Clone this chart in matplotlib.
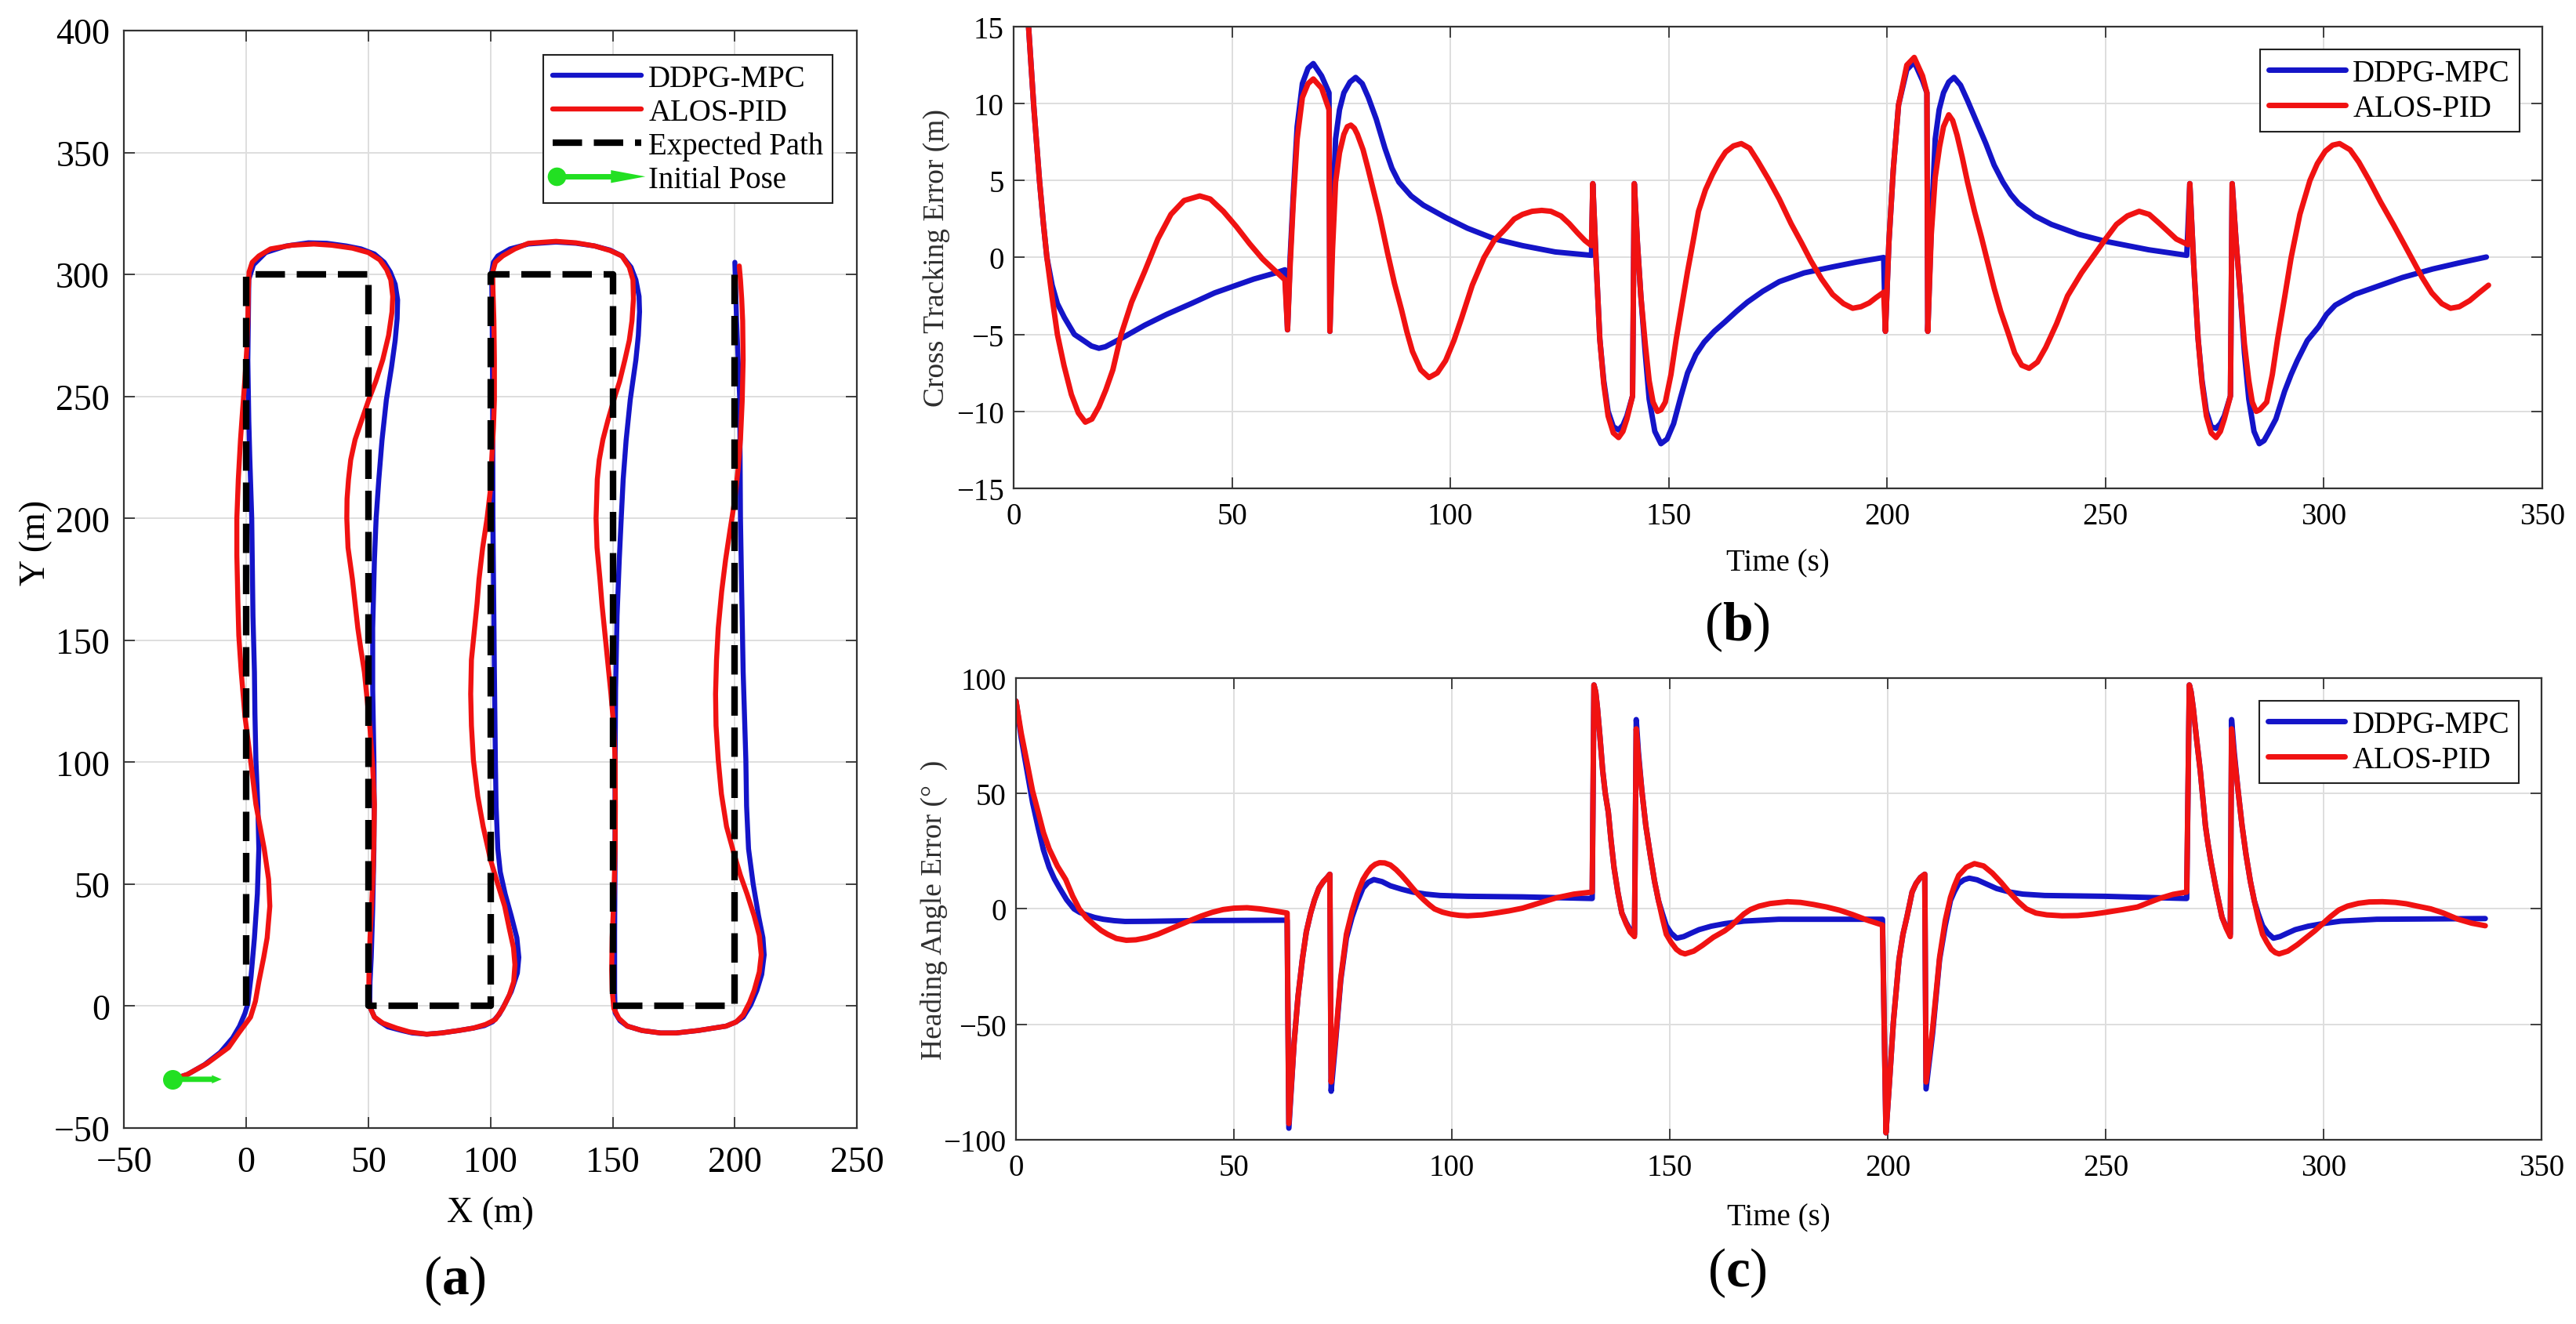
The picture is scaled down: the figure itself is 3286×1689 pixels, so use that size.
import numpy as np
import matplotlib.pyplot as plt
from matplotlib.lines import Line2D
from matplotlib.patches import Polygon

plt.rcParams['font.family'] = ['Liberation Serif', 'DejaVu Serif']
plt.rcParams['mathtext.fontset'] = 'custom'
plt.rcParams['mathtext.rm'] = 'Liberation Serif'
plt.rcParams['mathtext.bf'] = 'Liberation Serif:bold'

BLUE = '#1414c8'
RED = '#f01212'
GREEN = '#22e022'

# ---------------- (a) trajectories ----------------
path_x = [0, 0, 50, 50, 100, 100, 150, 150, 200, 200]
path_y = [0, 300, 300, 0, 0, 300, 300, 0, 0, 300]

init_x, init_y, init_len = -30, -30, 20

ddpg_xy = [(-30, -30), (-24, -28), (-17, -24), (-10.6, -19), (-5.5, -13), (-2.7, -8.2), (-0.5, -3),
           (0.7, 1), (2, 12), (3.4, 28), (4.6, 46), (5.2, 64.5), (4.8, 82), (4, 101), (3.6, 120),
           (3.4, 137), (2.8, 160), (2.3, 200), (1.5, 225), (1.1, 240), (0.7, 265), (0.9, 280),
           (1.1, 298), (3, 304), (8, 309), (16.4, 311.7), (25.5, 313), (33, 312.8), (41, 311.7),
           (47, 310.5), (52.5, 308.4), (56.5, 305), (59, 301), (61, 296), (62, 289.6), (61.8, 282),
           (61, 273), (59.5, 262), (57.4, 248.7), (55.6, 232), (54.3, 216), (53.2, 200), (52.5, 183),
           (51.8, 155), (51.8, 130), (52.3, 101), (52.4, 82), (52.3, 64.5), (51.8, 40), (51.2, 20),
           (50.7, 10), (50.6, 2), (51, -1), (52.5, -4.5), (54.7, -6.4), (58, -8.5), (63.7, -10),
           (68, -11), (73.9, -11.5), (80, -11), (87, -10), (93, -9), (97.5, -8), (100.9, -6.4),
           (103.5, -3.5), (106, 1), (108.5, 6), (111, 13.6), (111.6, 20), (110.8, 28), (108.5, 37),
           (106, 46), (104, 55), (103, 64.5), (102.3, 82), (102, 101), (101.6, 137), (101.3, 170),
           (101, 200), (100.9, 248.7), (100.7, 281), (100.5, 301), (101.2, 305), (103, 307.6),
           (108, 310.5), (115.5, 312.5), (126.8, 313.3), (135, 312.8), (142.6, 311.7), (149, 310),
           (153.8, 307.6), (157.5, 303), (159.5, 297.8), (160.8, 291), (161, 284.7), (160.5, 275),
           (159.5, 265), (157.2, 248.7), (155.5, 232), (154.3, 216), (153.5, 200), (152.7, 183),
           (151.8, 160), (151.2, 130), (151, 101), (151, 64.5), (150.8, 30), (150.8, 6), (151, -2.7),
           (153, -6), (156, -8.2), (162, -10), (169.6, -11), (176, -11), (185, -10), (196.4, -8.2),
           (200.5, -6.5), (203.4, -4.5), (206.5, 0.5), (209, 6.4), (211, 13), (212, 21), (211.5, 28),
           (209.7, 37), (207.5, 50), (205.6, 64.5), (204.8, 82), (204.5, 101), (203.4, 137),
           (202.8, 170), (202.3, 200), (202, 248.7), (200.7, 281), (200, 305)]

alos_xy = [(-30, -30), (-24, -28), (-16, -23.5), (-7.2, -17), (-3, -11), (1.8, -4.5), (3.8, 2),
           (5.2, 10), (7.2, 20), (8.6, 28), (9.7, 41), (9.2, 52), (7.4, 64.5), (5.8, 73), (4, 82.7),
           (1.8, 101), (-0.5, 119), (-2, 137), (-3, 152), (-3.4, 167), (-3.8, 185), (-3.8, 200),
           (-3.2, 216), (-2.3, 232.3), (-1.4, 245), (-0.5, 257), (0.3, 270), (0.7, 281), (0.9, 294),
           (1.2, 301), (2.5, 305), (5.2, 307.6), (10, 310.5), (18.7, 312), (27.7, 312.5), (35, 312),
           (43.5, 310.8), (50, 309), (54.7, 306), (57.5, 302), (59.2, 297.8), (60, 291), (59.7, 284.7),
           (58.3, 275), (55.9, 265), (53, 256), (50.2, 248.7), (47.2, 240), (44.6, 232.3),
           (42.8, 224), (41.9, 216), (41.3, 208), (41.2, 200), (41.7, 188), (43.5, 175), (44.6, 165),
           (45.7, 155), (47, 146), (48.4, 137), (49.6, 125), (50.7, 113.6), (51.8, 98), (52.5, 82.7),
           (52.3, 70), (52, 55.5), (51.4, 42), (50.7, 28), (50.3, 15), (50.2, 6.4), (50.5, 0),
           (52.5, -4.5), (56, -7), (61.5, -9), (67, -10.6), (73.9, -11.5), (80, -11), (87, -10),
           (93, -9), (98, -7.5), (102, -5.5), (105, -1), (107.7, 4.5), (109.5, 10), (110, 17),
           (109.4, 24), (107.7, 31.8), (105.8, 41), (103, 50), (100, 60), (97, 73.6), (94.8, 86),
           (93, 101), (92.2, 115), (91.9, 128), (92.2, 142), (93.5, 155), (94.5, 165), (95.3, 175),
           (96.8, 188), (98.6, 200), (100, 212), (100.5, 224), (101.2, 237), (101.6, 248.7),
           (101.6, 265), (101.4, 281), (101, 294), (100.9, 301), (102, 305), (105, 307.6),
           (110, 310.5), (115.5, 312.8), (126.8, 313.6), (135, 313), (142.6, 311.7), (149, 309.8),
           (153.8, 307.6), (156.8, 303), (158.3, 297.8), (158.5, 290), (157.9, 281), (156.8, 273),
           (155, 265), (152.8, 256), (150.5, 248.7), (148, 240), (146, 232.3), (144.5, 224),
           (143.7, 216), (143.2, 200), (143.6, 188), (144.8, 175), (145.6, 165), (146.6, 155),
           (148, 141), (149.3, 128), (150.4, 115), (151, 101), (151.1, 82), (151, 64.5), (150.5, 45),
           (149.8, 28), (149.6, 15), (149.8, 6.4), (150.5, -1), (152.5, -5), (156, -8.2), (162, -10),
           (169.6, -11), (176, -11), (185, -10), (196.4, -8.2), (200.5, -6.5), (203.4, -3.6),
           (206, 1.5), (207.9, 6.4), (210, 14), (210.8, 21), (210, 29), (207.9, 37), (205, 46),
           (202.3, 53.6), (199.5, 63), (196.6, 73.6), (194.5, 87), (193.2, 101), (192.3, 115),
           (192.1, 128), (192.5, 142), (193.2, 155), (194.6, 170), (196.2, 183), (198, 195),
           (200, 207.8), (201.3, 220), (202.3, 232.3), (203, 248), (203.4, 265), (203.2, 281),
           (202.8, 290), (202.3, 297.8), (201.8, 303.5)]

# ---------------- (b) cross tracking error ----------------
cte_ddpg = [(0, 28), (3.4, 15), (4.6, 9.8), (5.9, 5), (6.8, 2.2), (7.6, 0), (8.8, -1.8), (10, -3.0),
            (11.6, -3.9), (13.9, -5.0), (16, -5.4), (17.8, -5.75), (19.5, -5.9), (21, -5.8),
            (23, -5.5), (25, -5.2), (30, -4.4), (35, -3.7), (41, -2.95), (46, -2.3), (50, -1.9),
            (55, -1.4), (60, -1.0), (62.1, -0.8), (62.7, -4.7), (63.3, 0), (64.0, 4.0), (64.9, 8.5),
            (66.1, 11.3), (67.4, 12.3), (68.6, 12.6), (70.5, 11.8), (72.2, 10.7), (72.4, -4.8),
            (73.0, 2.0), (73.7, 7.7), (74.6, 9.6), (75.6, 10.7), (77.0, 11.4), (78.3, 11.7),
            (79.8, 11.3), (81.2, 10.4), (83, 9.0), (85, 7.1), (86.6, 5.8), (88.2, 4.9), (91, 4.0),
            (93.8, 3.4), (98.9, 2.6), (103.9, 1.9), (110.2, 1.2), (116.5, 0.77), (124, 0.36),
            (132.3, 0.14), (132.6, 4.8), (133.4, -0.5), (134.2, -5.3), (135.1, -8.0), (136.1, -10.0),
            (137.3, -11.0), (138.5, -11.2), (139.5, -10.9), (140.4, -10.3), (141.7, -9), (142.1, 4.8),
            (142.8, 1.0), (143.6, -2.5), (144.6, -6.2), (145.5, -9.2), (146.8, -11.3), (148.2, -12.1),
            (149.6, -11.8), (151.1, -10.8), (152.7, -9.1), (154.3, -7.5), (156.2, -6.3), (158.1, -5.5),
            (160.4, -4.8), (162.8, -4.2), (165.5, -3.5), (168, -2.9), (171.5, -2.2), (175.3, -1.57),
            (181, -1.0), (187.7, -0.6), (193, -0.3), (199.2, 0), (199.6, -4.8), (200.4, 1.0),
            (201.4, 5.7), (202.6, 9.9), (204.5, 12.2), (206.2, 12.7), (208.1, 11.5), (209.1, 10.7),
            (209.3, -4.8), (210.1, 2.0), (211, 7.7), (211.9, 9.6), (212.9, 10.7), (214.1, 11.4),
            (215.3, 11.7), (216.8, 11.2), (218.4, 10.2), (220.5, 8.8), (222.6, 7.4), (224.5, 6.0),
            (226.5, 4.9), (228.3, 4.1), (230.1, 3.5), (233.8, 2.7), (237.6, 2.15), (243.9, 1.5),
            (250, 1.05), (259.9, 0.5), (268.6, 0.14), (269.3, 4.8), (270.2, -0.5), (271.2, -5.3),
            (272.1, -8.0), (273.1, -10.0), (274.2, -11.0), (275.3, -11.1), (276.3, -10.8),
            (277.2, -10.3), (278.6, -9), (279.0, 4.8), (279.9, 1.0), (280.9, -2.5), (281.8, -6.2),
            (282.8, -9.2), (284, -11.3), (285.2, -12.1), (286.3, -11.9), (287.5, -11.3), (289, -10.5),
            (291, -8.7), (292.5, -7.6), (293.9, -6.7), (296.2, -5.4), (298.8, -4.5), (300.6, -3.7),
            (302.6, -3.1), (307, -2.4), (312.5, -1.85), (318, -1.3), (324.9, -0.75), (331, -0.35),
            (337.2, 0.03)]

cte_alos = [(0, 28), (3.4, 15), (4.6, 9.8), (5.9, 5), (6.8, 2.2), (7.6, 0), (8.8, -2.6), (10, -5),
            (11.5, -7), (13.2, -8.9), (14.8, -10.1), (16.4, -10.7), (17.9, -10.5), (19.5, -9.7),
            (21.1, -8.6), (22.7, -7.3), (24.6, -5), (27, -2.9), (30, -0.9), (33, 1.2), (36, 2.8),
            (39, 3.7), (42.6, 4.0), (45, 3.8), (48, 3.0), (51, 2.0), (54, 0.9), (57, -0.1),
            (60, -0.9), (62.1, -1.45), (62.7, -4.7), (63.3, -0.5), (64.0, 3.5), (64.9, 7.7),
            (66.1, 10.4), (67.4, 11.3), (68.6, 11.6), (70.5, 11.0), (72.2, 9.6), (72.4, -4.8),
            (73.0, 0.5), (73.7, 4.9), (74.6, 6.8), (75.6, 8.0), (76.4, 8.5), (77.2, 8.6), (78, 8.4),
            (78.7, 8.0), (80, 7.0), (81.2, 5.7), (82.5, 4.2), (83.8, 2.7), (85.6, 0.3), (87.2, -1.7),
            (88.8, -3.4), (90, -4.8), (91.3, -6.1), (93.2, -7.3), (95.1, -7.8), (97, -7.5),
            (98.9, -6.7), (100.8, -5.4), (102.6, -3.9), (105, -1.8), (107.7, 0), (110, 1.1),
            (112.7, 1.9), (114.6, 2.5), (116.5, 2.8), (118.7, 3.0), (120.9, 3.06), (123, 3.0),
            (125.3, 2.7), (127.2, 2.2), (129.1, 1.6), (130.8, 1.1), (132.3, 0.77), (132.6, 4.8),
            (133.4, -0.5), (134.2, -5.3), (135.1, -8.2), (136.1, -10.3), (137.3, -11.4),
            (138.5, -11.7), (139.5, -11.3), (140.4, -10.5), (141.7, -9), (142.1, 4.8), (142.8, 1.0),
            (143.6, -2.5), (144.6, -5.6), (145.5, -8), (146.4, -9.4), (147.4, -10), (148.2, -9.9),
            (149.2, -9.4), (150.5, -7.6), (151.7, -5.3), (153, -3.1), (154.3, -0.9), (155.6, 1.1),
            (156.8, 3), (158.4, 4.4), (160, 5.4), (161.5, 6.2), (163, 6.85), (164.8, 7.25),
            (166.6, 7.4), (168.5, 7.1), (170.3, 6.3), (172.8, 5.1), (175.3, 3.8), (178, 2.2),
            (180.3, 1.0), (182.5, -0.2), (185, -1.4), (187.5, -2.4), (190, -3.0), (192.1, -3.3),
            (194, -3.2), (195.9, -2.95), (197.5, -2.6), (199.2, -2.26), (199.6, -4.8), (200.4, 1.0),
            (201.4, 5.7), (202.6, 9.9), (204.5, 12.5), (206.2, 13.0), (208.1, 11.8), (209.1, 10.7),
            (209.3, -4.8), (210.1, 1.5), (211, 5.2), (212, 7.2), (212.9, 8.5), (214.1, 9.27),
            (215, 8.9), (216, 7.95), (217.2, 6.5), (218.4, 4.9), (220, 3.0), (221.6, 1.3),
            (223, -0.3), (224.5, -2.0), (226, -3.5), (227.7, -4.9), (229.2, -6.2), (230.8, -7.0),
            (232.5, -7.2), (234.4, -6.8), (236.3, -5.85), (238.8, -4.3), (241.3, -2.5),
            (244.5, -1.0), (247.5, 0.2), (250, 1.2), (252.5, 2.15), (255, 2.7), (257.7, 3.0),
            (260, 2.8), (262.4, 2.2), (264.3, 1.7), (266.2, 1.2), (268.9, 0.83), (269.3, 4.8),
            (270.2, -0.5), (271.2, -5.3), (272.1, -8.2), (273.1, -10.3), (274.2, -11.4),
            (275.3, -11.7), (276.3, -11.3), (277.2, -10.5), (278.6, -9), (279.0, 4.8), (279.9, 1.0),
            (280.9, -2.5), (281.8, -5.6), (282.8, -8), (283.6, -9.4), (284.5, -10), (285.3, -9.9),
            (286.9, -9.4), (288.2, -7.6), (289.4, -5.3), (291, -2.6), (292.5, 0), (294.5, 2.8),
            (296.8, 5), (298.5, 6.1), (300.3, 6.9), (302, 7.3), (303.6, 7.4), (306, 7.0), (308, 6.2),
            (310.4, 5), (313, 3.6), (316, 2.1), (318.5, 0.8), (320.4, -0.2), (322.5, -1.3),
            (324.7, -2.3), (327, -3.0), (329, -3.3), (331, -3.2), (333.4, -2.8), (335.5, -2.3),
            (337.7, -1.8)]

# ---------------- (c) heading angle error ----------------
hae_ddpg = [(0, 90), (1.2, 74), (2.5, 60), (3.8, 46), (5.1, 35), (6.3, 25.5), (7.6, 18), (8.8, 13),
            (10, 9), (11.6, 4), (13.3, 0), (14.6, -1.5), (16, -2.5), (18, -3.7), (20, -4.5),
            (22.5, -5.1), (25, -5.45), (30, -5.4), (40, -5.1), (50, -5.0), (62.2, -4.9), (62.6, -95),
            (63.8, -58), (64.7, -38), (65.7, -21.8), (66.6, -10), (67.6, -1.8), (68.5, 4), (69.5, 9),
            (70.5, 11.8), (71.4, 13.6), (72.0, 15), (72.3, -79), (73.3, -58), (74.5, -31),
            (75.8, -12.7), (77.1, -3.6), (78.3, 3), (79.6, 9), (80.8, 11.5), (82.1, 12.7), (84, 11.8),
            (85.9, 10), (88.5, 8.5), (91, 7.3), (94, 6.4), (97.3, 5.8), (103.6, 5.45), (116.2, 5.2),
            (132.2, 4.5), (132.6, 97), (133.0, 94), (133.4, 87), (134.0, 74), (134.6, 60),
            (135.2, 50), (135.9, 41.8), (136.5, 30), (137.2, 18), (138.1, 7), (139, -1.8),
            (140, -6), (140.9, -9), (141.9, -11), (142.3, 82), (142.8, 68), (143.6, 51), (144.5, 36),
            (145.5, 23.6), (146.5, 12), (147.4, 3.6), (148.3, -2), (149.2, -7.3), (150.3, -10.5),
            (151.6, -12.7), (153.2, -12), (154.8, -10.6), (156.7, -9), (159.5, -7.5), (162.6, -6.4),
            (167, -5.3), (175, -4.5), (198.8, -4.5), (199.6, -97), (200.4, -75), (201.3, -49),
            (202.6, -21.8), (203.5, -11), (204.4, -3.6), (205.6, 7.3), (206.5, 11), (207.5, 13.6),
            (208.5, 15), (208.8, -78), (210.3, -54), (211.9, -22), (213.2, -7.3), (214.4, 3.6),
            (215.3, 7.5), (216.3, 11), (217.5, 12.6), (218.7, 13.3), (220.5, 12.6), (222.4, 11),
            (225, 8.8), (228, 7.3), (231, 6.4), (236, 5.8), (249.8, 5.45), (268.6, 4.5), (269.2, 97),
            (269.6, 94), (270.1, 87), (270.9, 73), (271.7, 60), (272.3, 48), (272.9, 36),
            (273.5, 28), (274.2, 20), (275.4, 8), (276.7, -3.6), (277.7, -8), (278.6, -11),
            (278.9, 82), (279.5, 68), (280.4, 51), (281.3, 36), (282.2, 23.6), (283.2, 12),
            (284.1, 3.6), (285, -2), (286, -7.3), (287.2, -10.5), (288.5, -12.7), (290, -12),
            (291.6, -10.6), (293.5, -9), (296.5, -7.5), (299.8, -6.4), (304, -5.3), (312.2, -4.5),
            (337.1, -4.2)]

hae_alos = [(0, 90), (1.2, 76), (2.5, 63.6), (3.8, 51), (5.1, 41.8), (6.3, 33), (7.6, 26), (9.5, 18.5),
            (11.4, 12.7), (13, 5.5), (14.5, 0), (16.2, -4), (18, -7), (19.5, -9.3), (21, -11),
            (23, -12.8), (25.3, -13.6), (27.5, -13.4), (30, -12.5), (32.5, -11), (35, -9),
            (37.5, -7), (40, -5), (42.5, -3.1), (45, -1.5), (47.5, -0.3), (50, 0.3), (53, 0.5),
            (56, 0), (59, -0.8), (62.2, -1.8), (62.6, -93), (63.8, -58), (64.7, -38), (65.7, -21.8),
            (66.6, -10), (67.6, -1.8), (68.5, 4), (69.5, 9), (70.5, 11.8), (71.4, 13.6), (72.0, 15),
            (72.3, -75), (73.3, -56), (74.5, -30), (75.8, -11), (77.1, -1), (78.3, 6.5), (79.6, 12.7),
            (80.5, 15.5), (81.5, 18), (82.4, 19.3), (83.4, 20), (84.6, 19.9), (85.9, 19),
            (87.2, 17), (88.5, 14.5), (89.8, 11.7), (91, 9), (92.2, 6.4), (93.5, 4), (94.8, 1.8),
            (96, 0), (97.8, -1.4), (99.8, -2.3), (101.7, -2.8), (103.6, -3), (107, -2.6),
            (110, -1.8), (113, -0.9), (116.2, 0.3), (120, 2.5), (124, 4.8), (128, 6.4),
            (132.2, 7.3), (132.6, 97), (133.0, 94), (133.4, 87), (134.0, 74), (134.6, 60),
            (135.2, 50), (135.9, 41.8), (136.5, 30), (137.2, 18), (138.1, 7), (139, -1.8),
            (140, -6.5), (140.9, -10), (141.9, -12), (142.3, 78), (142.8, 66), (143.6, 51),
            (144.5, 36), (145.5, 23.6), (146.5, 12), (147.4, 3.6), (148.3, -4), (149.2, -11),
            (150.3, -14.5), (151.5, -17.5), (152.5, -18.9), (153.5, -19.5), (155.5, -18.3),
            (157.5, -15.8), (160, -12.3), (162.6, -9.5), (164, -7.5), (165.5, -4.8), (167, -2.2),
            (168.5, -0.3), (170.5, 1.2), (173, 2.3), (177, 3.1), (180, 2.8), (183, 1.9), (186, 0.8),
            (189, -0.6), (192, -2.5), (195.5, -5), (198.8, -7), (199.6, -97), (200.4, -75),
            (201.3, -49), (202.6, -21.8), (203.5, -11), (204.4, -3.6), (205.6, 7.3), (206.5, 11),
            (207.5, 13.6), (208.5, 15), (208.8, -75), (210.3, -52), (211.9, -21), (213.2, -5),
            (214.4, 5), (215.3, 10), (216.3, 14.5), (218, 18), (219.9, 19.6), (222, 18.6),
            (224, 15.5), (226, 11.5), (228, 7), (230, 3), (231.8, 0), (234, -1.8), (236.5, -2.6),
            (240, -3.0), (243.6, -2.9), (247, -2.3), (250, -1.5), (254, -0.3), (257.3, 0.8),
            (260, 2.8), (262.5, 4.6), (265.5, 6.3), (268.6, 7.3), (269.2, 97), (269.6, 94),
            (270.1, 87), (270.9, 73), (271.7, 60), (272.3, 48), (272.9, 36), (273.5, 28),
            (274.2, 20), (275.4, 8), (276.7, -3.6), (277.7, -8.5), (278.6, -12), (278.9, 78),
            (279.5, 66), (280.4, 51), (281.3, 36), (282.2, 23.6), (283.2, 12), (284.1, 3.6),
            (285, -4), (286, -11), (287, -14.5), (288, -17.5), (288.9, -18.9), (289.8, -19.5),
            (291.8, -18.3), (294, -15.5), (296, -12.5), (298, -9.5), (299.8, -6.4), (301.5, -3.5),
            (303.5, -0.5), (305.5, 1.2), (308, 2.4), (310.5, 3.0), (313.5, 3.1), (316.5, 2.8),
            (319, 2.2), (322, 1.0), (324.6, 0), (327.5, -1.8), (330.9, -4.5), (334, -6.2),
            (337.1, -7.3)]


class PoseKey:
    pass


class PoseHandler:
    # green dot + arrow, like the MATLAB legend entry
    def legend_artist(self, legend, orig_handle, fontsize, handlebox):
        x0, y0 = handlebox.xdescent, handlebox.ydescent
        w, h = handlebox.width, handlebox.height
        ym = y0 + h / 2
        shaft = Line2D([x0 + 0.05 * w, x0 + 0.72 * w], [ym, ym], color=GREEN, lw=5)
        head = Polygon([[x0 + 0.66 * w, ym + 0.3 * h], [x0 + 1.05 * w, ym],
                        [x0 + 0.66 * w, ym - 0.3 * h]], closed=True, color=GREEN, lw=0)
        dot = Line2D([x0 + 0.05 * w], [ym], marker='o', ms=16, color=GREEN)
        for a in (shaft, head, dot):
            handlebox.add_artist(a)
        return shaft


def style_axes(ax, labelsize):
    ax.tick_params(direction='in', top=True, right=True, length=10, width=1.3,
                   color='#333333', labelsize=labelsize, pad=12)
    ax.grid(True, color='#dedede', lw=1.4)
    ax.set_axisbelow(True)
    for s in ax.spines.values():
        s.set_color('#333333')
        s.set_linewidth(1.6)


def add_legend(ax, handles=None, labels=None, **kw):
    if handles is None:
        handles, labels = ax.get_legend_handles_labels()
    leg = ax.legend(handles, labels, loc='upper right', fontsize=28, handletextpad=0.25,
                    borderpad=0.3, fancybox=False, framealpha=1, edgecolor='#222222', **kw)
    leg.get_frame().set_linewidth(1.5)
    return leg


line_kw = dict(solid_joinstyle='round', solid_capstyle='round')

fig = plt.figure(figsize=(32.87, 16.90), dpi=100)

# ---- (a)
ax1 = fig.add_axes([0.0481, 0.1479, 0.2845, 0.8284])
bx = np.array(ddpg_xy)
rx = np.array(alos_xy)
ax1.plot(bx[:, 0], bx[:, 1], color=BLUE, lw=4.6, label='DDPG-MPC', **line_kw)
ax1.plot(rx[:, 0], rx[:, 1], color=RED, lw=4.6, label='ALOS-PID', **line_kw)
ax1.plot(path_x, path_y, color='black', lw=6, dashes=(4.5, 1.8), label='Expected Path')
ax1.arrow(init_x, init_y, init_len, 0, width=2.2, head_width=3.4, head_length=4,
          length_includes_head=True, color=GREEN, lw=0, zorder=5)
ax1.plot(init_x, init_y, 'o', ms=17, color=GREEN, zorder=6)
ax1.set_xlim(-50, 250)
ax1.set_ylim(-50, 400)
ax1.set_xticks(np.arange(-50, 251, 50))
ax1.set_yticks(np.arange(-50, 401, 50))
style_axes(ax1, 33)
ax1.tick_params(axis='x', pad=16)
ax1.tick_params(axis='y', pad=13)
ax1.set_xlabel('X (m)', fontsize=33)
ax1.set_ylabel('Y (m)', fontsize=33)
ax1.xaxis.set_label_coords(0.5, -0.062)
ax1.yaxis.set_label_coords(-0.097, 0.534)
h, l = ax1.get_legend_handles_labels()
add_legend(ax1, h + [PoseKey()], l + ['Initial Pose'], handler_map={PoseKey: PoseHandler()},
           handlelength=2.9, labelspacing=0.15, borderaxespad=0.8)
fig.text(580 / 3287, 1 - 1634 / 1690, r'($\mathbf{a}$)', fontsize=50, ha='center', va='center')

# ---- (b)
ax2 = fig.add_axes([0.3934, 0.6308, 0.5932, 0.3485])
cb = np.array(cte_ddpg)
cr = np.array(cte_alos)
ax2.plot(cb[:, 0], cb[:, 1], color=BLUE, lw=5, label='DDPG-MPC', **line_kw)
ax2.plot(cr[:, 0], cr[:, 1], color=RED, lw=5, label='ALOS-PID', **line_kw)
ax2.set_xlim(0, 350)
ax2.set_ylim(-15, 15)
ax2.set_yticks(np.arange(-15, 16, 5))
style_axes(ax2, 28)
ax2.tick_params(axis='y', pad=9)
ax2.set_xlabel('Time (s)', fontsize=28)
ax2.set_ylabel('Cross Tracking Error (m)', fontsize=27, color='#2e2e2e')
ax2.xaxis.set_label_coords(0.5, -0.129)
ax2.yaxis.set_label_coords(-0.0415, 0.5)
add_legend(ax2, handlelength=2.5, labelspacing=0.2, borderaxespad=0.75)
fig.text(2216 / 3287, 1 - 800 / 1690, r'($\mathbf{b}$)', fontsize=50, ha='center', va='center')

# ---- (c)
ax3 = fig.add_axes([0.3943, 0.1391, 0.5920, 0.3485])
hb = np.array(hae_ddpg)
hr = np.array(hae_alos)
ax3.plot(hb[:, 0], hb[:, 1], color=BLUE, lw=5, label='DDPG-MPC', **line_kw)
ax3.plot(hr[:, 0], hr[:, 1], color=RED, lw=5, label='ALOS-PID', **line_kw)
ax3.set_xlim(0, 350)
ax3.set_ylim(-100, 100)
ax3.set_yticks(np.arange(-100, 101, 50))
style_axes(ax3, 28)
ax3.tick_params(axis='y', pad=9)
ax3.set_xlabel('Time (s)', fontsize=28)
ax3.set_ylabel('Heading Angle Error (°  )', fontsize=27, color='#2e2e2e')
ax3.xaxis.set_label_coords(0.5, -0.1375)
ax3.yaxis.set_label_coords(-0.0447, 0.5)
add_legend(ax3, handlelength=2.5, labelspacing=0.2, borderaxespad=0.75)
fig.text(2216 / 3287, 1 - 1624 / 1690, r'($\mathbf{c}$)', fontsize=50, ha='center', va='center')

fig.savefig('out.png', dpi=100)
